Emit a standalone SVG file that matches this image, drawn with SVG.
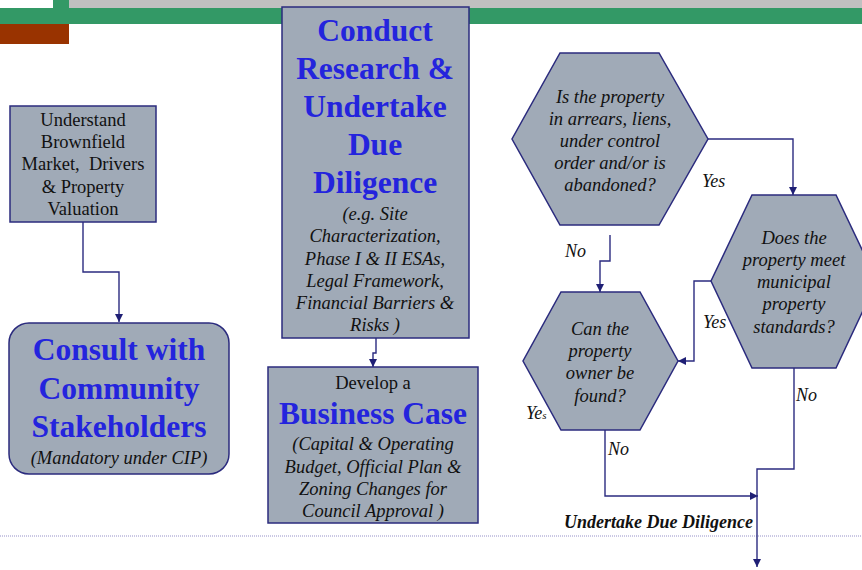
<svg xmlns="http://www.w3.org/2000/svg" width="862" height="570" viewBox="0 0 862 570">
<defs>
<style>
.box{fill:#a0aab7;stroke:#2b2b7e;stroke-width:1.5}
.ln{fill:none;stroke:#2b2b80;stroke-width:1.4}
.t{font-size:18.5px;fill:#111;text-anchor:middle}
.i{font-style:italic}
.big{font-size:31.5px;font-weight:bold;fill:#2424dd;text-anchor:middle}
.lbl{font-size:18px;font-style:italic;fill:#111}
</style>
<marker id="ah" viewBox="0 0 10 10" refX="10" refY="5" markerWidth="8" markerHeight="8" markerUnits="userSpaceOnUse" orient="auto">
<path d="M0,0 L10,5 L0,10 z" fill="#1f1f75"/>
</marker>
</defs>
<rect width="862" height="570" fill="#fff"/>
<g id="header">
<rect x="69" y="0" width="793" height="8" fill="#c0c0c0"/>
<rect x="53" y="0" width="16" height="8" fill="#339966"/>
<rect x="0" y="8" width="862" height="16" fill="#339966"/>
<rect x="0" y="24" width="69" height="20" fill="#993300"/>
</g>
<line x1="0" y1="536" x2="862" y2="536" stroke="#9590c8" stroke-width="1" stroke-dasharray="1 1"/>
<g font-family="Liberation Serif, 'Times New Roman', serif">
<g id="connectors">
<polyline class="ln" points="83,222 83,272 119,272 119,322" marker-end="url(#ah)"/>
<polyline class="ln" points="376,338 376,353 373,353 373,367" marker-end="url(#ah)"/>
<polyline class="ln" points="708,139 793,139 793,195" marker-end="url(#ah)"/>
<polyline class="ln" points="610,235 610,261 600,261 600,292" marker-end="url(#ah)"/>
<polyline class="ln" points="711,281 694,281 694,361 678,361" marker-end="url(#ah)"/>
<polyline class="ln" points="605,430 605,496 758,496" marker-end="url(#ah)"/>
<polyline class="ln" points="794,368 794,469 757,469 757,567" marker-end="url(#ah)"/>
<text class="lbl" x="702" y="187">Yes</text>
<text class="lbl" x="565" y="257">No</text>
<text class="lbl" x="703" y="328">Yes</text>
<text class="lbl" x="526" y="419">Ye<tspan font-size="11">s</tspan></text>
<text class="lbl" x="608" y="455">No</text>
<text class="lbl" x="796" y="401">No</text>
<text class="lbl" x="753" y="528" font-size="18.5" font-weight="bold" text-anchor="end">Undertake Due Diligence</text>
</g>
<g id="understand">
<rect class="box" x="10" y="106" width="146" height="116"/>
<text class="t" x="83" y="126">Understand</text>
<text class="t" x="83" y="148">Brownfield</text>
<text class="t" x="83" y="170" xml:space="preserve">Market,  Drivers</text>
<text class="t" x="83" y="193">&amp; Property</text>
<text class="t" x="83" y="215">Valuation</text>
</g>
<g id="consult">
<rect class="box" x="9" y="323" width="220" height="151" rx="20" ry="20"/>
<text class="big" x="119" y="360">Consult with</text>
<text class="big" x="119" y="399">Community</text>
<text class="big" x="119" y="437">Stakeholders</text>
<text class="t i" x="119" y="464">(Mandatory under CIP)</text>
</g>
<g id="conduct">
<rect class="box" x="282" y="7" width="187" height="331"/>
<text class="big" x="375" y="41">Conduct</text>
<text class="big" x="375" y="79">Research &amp;</text>
<text class="big" x="375" y="117">Undertake</text>
<text class="big" x="375" y="155">Due</text>
<text class="big" x="375" y="193">Diligence</text>
<text class="t i" x="375" y="220">(e.g. Site</text>
<text class="t i" x="375" y="242">Characterization,</text>
<text class="t i" x="375" y="265">Phase I &amp; II ESAs,</text>
<text class="t i" x="375" y="287">Legal Framework,</text>
<text class="t i" x="375" y="309">Financial Barriers &amp;</text>
<text class="t i" x="375" y="331">Risks )</text>
</g>
<g id="business">
<rect class="box" x="268" y="367" width="210" height="156"/>
<text class="t" x="373" y="389">Develop a</text>
<text class="big" x="373" y="424">Business Case</text>
<text class="t i" x="373" y="450">(Capital &amp; Operating</text>
<text class="t i" x="373" y="473">Budget, Official Plan &amp;</text>
<text class="t i" x="373" y="495">Zoning Changes for</text>
<text class="t i" x="373" y="517">Council Approval )</text>
</g>
<g id="q1">
<polygon class="box" points="560,53 659,53 708,139 659,225 560,225 512,139"/>
<text class="t i" x="610" y="103">Is the property</text>
<text class="t i" x="610" y="125">in arrears, liens,</text>
<text class="t i" x="610" y="147">under control</text>
<text class="t i" x="610" y="169">order and/or is</text>
<text class="t i" x="610" y="191">abandoned?</text>
</g>
<g id="q2">
<polygon class="box" points="752,195 836,195 877,281 836,368 752,368 711,281"/>
<text class="t i" x="794" y="244">Does the</text>
<text class="t i" x="794" y="266">property meet</text>
<text class="t i" x="794" y="288">municipal</text>
<text class="t i" x="794" y="310">property</text>
<text class="t i" x="794" y="333">standards?</text>
</g>
<g id="q3">
<polygon class="box" points="561,292 640,292 678,361 640,430 561,430 523,361"/>
<text class="t i" x="600" y="335">Can the</text>
<text class="t i" x="600" y="357">property</text>
<text class="t i" x="600" y="379">owner be</text>
<text class="t i" x="600" y="402">found?</text>
</g>
</g>
</svg>
